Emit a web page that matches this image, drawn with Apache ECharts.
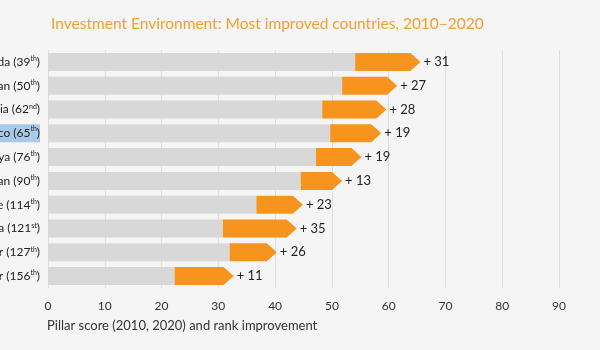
<!DOCTYPE html>
<html>
<head>
<meta charset="utf-8">
<script src="https://cdn.jsdelivr.net/npm/echarts@6/dist/echarts.min.js"></script>
<style>
  html, body { margin: 0; padding: 0; background: #f5f5f5; }
  #main { width: 600px; height: 350px; }
</style>
</head>
<body>
<div id="main"></div>
<script>
// countries, rank 2020, scores
var countries = ['Canada', 'Azerbaijan', 'Indonesia', 'Morocco', 'Kenya', 'Uzbekistan', "Côte d'Ivoire", 'Guinea', 'Niger', 'Myanmar'];
var ranks = ['39th', '50th', '62nd', '65th', '76th', '90th', '114th', '121st', '127th', '156th'];
var score2010 = [54.1, 51.8, 48.3, 49.7, 47.2, 44.5, 36.7, 30.8, 32.0, 22.3];
var score2020 = [65.6, 61.5, 59.6, 58.7, 55.2, 51.8, 44.9, 43.8, 40.3, 32.7];
var rankGain = [31, 27, 28, 19, 19, 13, 23, 35, 26, 11];
var highlight = 'Morocco';

var myChart = echarts.init(document.getElementById('main'));

var font = 'Lato';
var orange = '#f7941d';

var arrowData = [];
for (var i = 0; i < countries.length; i++) {
    arrowData.push([i, score2010[i], score2020[i], rankGain[i]]);
}

option = {
    backgroundColor: '#f5f5f5',
    animation: false,
    title: {
        text: 'Investment Environment: Most improved countries, 2010\u20132020',
        left: 46,
        top: 11,
        textStyle: {
            color: '#f0a030',
            fontFamily: font,
            fontWeight: 'normal',
            fontSize: 15.5
        }
    },
    grid: { left: 48, right: 41, top: 50, bottom: 62, containLabel: false, outerBoundsMode: 'none' },
    xAxis: {
        type: 'value',
        min: 0,
        max: 90,
        interval: 10,
        axisLine: { show: false },
        axisTick: { show: false },
        splitLine: { lineStyle: { color: '#dedede', width: 1 } },
        axisLabel: { color: '#333', fontFamily: font, fontSize: 12, margin: 12 }
    },
    yAxis: {
        type: 'category',
        inverse: true,
        data: countries,
        axisLine: { show: false },
        axisTick: { show: false },
        axisLabel: {
            margin: 8,
            formatter: function (val, idx) {
                var m = ranks[idx].match(/^(\d+)(\D+)$/);
                var st = val === highlight ? 'h' : 'n';
                var sp = val === highlight ? 'hs' : 's';
                return '{' + st + '|' + val + ' (' + m[1] + '}{' + sp + '|' + m[2] + '}{' + st + '|)}';
            },
            rich: {
                n: { color: '#222', fontFamily: font, fontSize: 12 },
                s: { color: '#222', fontFamily: font, fontSize: 7, verticalAlign: 'top', padding: [0, 0, 6, 0] },
                h: { color: '#222', fontFamily: font, fontSize: 12, backgroundColor: '#a9c9e8', padding: [3, 0, 3, 0] },
                hs: { color: '#222', fontFamily: font, fontSize: 7, backgroundColor: '#a9c9e8', verticalAlign: 'top', padding: [1, 0, 10, 0] }
            }
        }
    },
    graphic: [{
        type: 'text',
        left: 47,
        top: 319,
        style: {
            text: 'Pillar score (2010, 2020) and rank improvement',
            fill: '#333',
            font: '13px ' + font
        }
    }],
    series: [
        {
            name: '2010',
            type: 'bar',
            data: score2010,
            barWidth: 18,
            itemStyle: { color: '#d8d8d8' },
            z: 2
        },
        {
            name: '2020',
            type: 'custom',
            data: arrowData,
            encode: { x: [1, 2], y: 0 },
            z: 3,
            renderItem: function (params, api) {
                var idx = api.value(0);
                var p0 = api.coord([api.value(1), idx]);
                var p1 = api.coord([api.value(2), idx]);
                var h = 18;
                var head = 10;
                var y = p0[1];
                return {
                    type: 'group',
                    children: [{
                        type: 'polygon',
                        shape: {
                            points: [
                                [p0[0], y - h / 2],
                                [p1[0] - head, y - h / 2],
                                [p1[0], y],
                                [p1[0] - head, y + h / 2],
                                [p0[0], y + h / 2]
                            ]
                        },
                        style: { fill: orange }
                    }, {
                        type: 'text',
                        x: p1[0] + 3,
                        y: y,
                        style: {
                            text: '+ ' + api.value(3),
                            fill: '#222',
                            font: '13px ' + font,
                            verticalAlign: 'middle'
                        }
                    }]
                };
            }
        }
    ]
};

myChart.setOption(option);
</script>
</body>
</html>
